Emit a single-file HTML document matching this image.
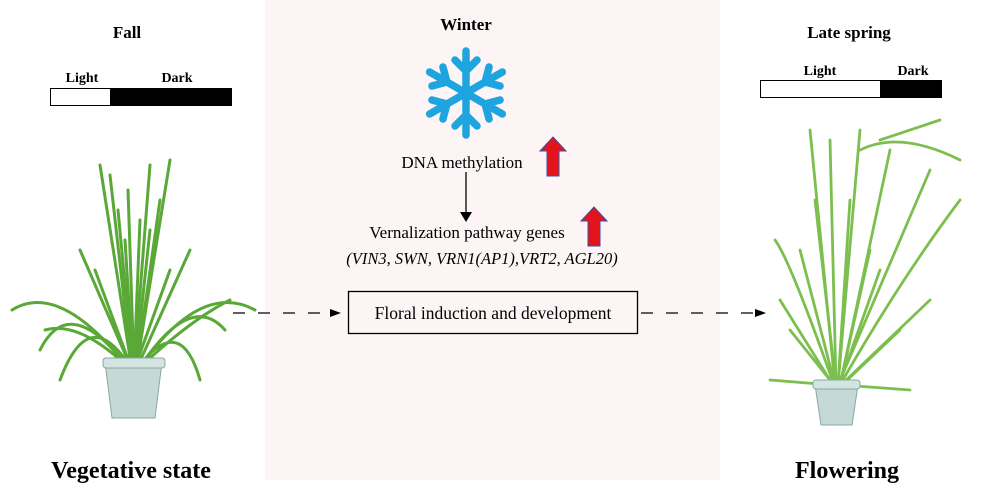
<!DOCTYPE html>
<html><head><meta charset="utf-8"><style>
body{margin:0;width:1005px;height:501px;background:#fff;overflow:hidden;position:relative;font-family:"Liberation Serif",serif}
</style></head><body>
<svg width="1005" height="501" viewBox="0 0 1005 501" xmlns="http://www.w3.org/2000/svg" style="position:absolute;left:0;top:0">
<rect x="265" y="0" width="455" height="480" fill="#fdf5f5"/>
<g font-family="Liberation Serif, serif" fill="#000">
<text x="127" y="38" font-size="17" font-weight="bold" text-anchor="middle">Fall</text>
<text x="466" y="30" font-size="17" font-weight="bold" text-anchor="middle">Winter</text>
<text x="849" y="38" font-size="17" font-weight="bold" text-anchor="middle">Late spring</text>
<text x="82" y="82" font-size="14" font-weight="bold" text-anchor="middle">Light</text>
<text x="177" y="82" font-size="14" font-weight="bold" text-anchor="middle">Dark</text>
<text x="820" y="75" font-size="14" font-weight="bold" text-anchor="middle">Light</text>
<text x="913" y="75" font-size="14" font-weight="bold" text-anchor="middle">Dark</text>
<text x="131" y="478" font-size="24" font-weight="bold" text-anchor="middle">Vegetative state</text>
<text x="847" y="478" font-size="24" font-weight="bold" text-anchor="middle">Flowering</text>
<text x="462" y="168" font-size="17" text-anchor="middle">DNA methylation</text>
<text x="467" y="238" font-size="17" text-anchor="middle">Vernalization pathway genes</text>
<text x="482" y="264" font-size="16.5" font-style="italic" text-anchor="middle">(VIN3, SWN, VRN1(AP1),VRT2, AGL20)</text>
<text x="493" y="319" font-size="17.5" text-anchor="middle">Floral induction and development</text>
</g>
<rect x="50.5" y="88.5" width="60" height="17" fill="#fff" stroke="#000"/>
<rect x="110" y="88" width="122" height="18" fill="#000"/>
<rect x="760.5" y="80.5" width="120" height="17" fill="#fff" stroke="#000"/>
<rect x="880" y="80" width="62" height="18" fill="#000"/>
<rect x="348.5" y="291.5" width="289" height="42" fill="none" stroke="#000" stroke-width="1.3"/>
<line x1="233" y1="313" x2="332" y2="313" stroke="#000" stroke-width="1.2" stroke-dasharray="12,13"/>
<polygon points="330,309 341,313 330,317" fill="#000"/>
<line x1="641" y1="313" x2="756" y2="313" stroke="#000" stroke-width="1.2" stroke-dasharray="12,13"/>
<polygon points="755,309 766,313 755,317" fill="#000"/>
<line x1="466" y1="172" x2="466" y2="213" stroke="#000" stroke-width="1.3"/>
<polygon points="460,212 472,212 466,222" fill="#000"/>
<g stroke="#1ea5df" stroke-width="7.5" stroke-linecap="round" fill="none" transform="translate(466,93)">
<g id="arm"><line x1="0" y1="0" x2="0" y2="-42"/><line x1="0" y1="-22" x2="-11" y2="-33"/><line x1="0" y1="-22" x2="11" y2="-33"/></g>
<use href="#arm" transform="rotate(60)"/><use href="#arm" transform="rotate(120)"/><use href="#arm" transform="rotate(180)"/><use href="#arm" transform="rotate(240)"/><use href="#arm" transform="rotate(300)"/>
</g>
<polygon points="553,137 566,151 559,151 559,176 547,176 547,151 540,151" fill="#e3141b" stroke="#3a4fa0" stroke-width="1"/>
<polygon points="594,207 607,221 600,221 600,246 588,246 588,221 581,221" fill="#e3141b" stroke="#3a4fa0" stroke-width="1"/>
<!-- left plant -->
<g stroke="#5aa838" stroke-width="3" fill="none" stroke-linecap="round">
<path d="M132 370 L100 165"/><path d="M132 370 L110 175"/><path d="M134 370 L128 190"/><path d="M134 370 L150 165"/><path d="M136 370 L170 160"/><path d="M136 370 L160 200"/>
<path d="M130 370 Q60 280 12 310"/><path d="M130 370 Q70 290 40 350"/><path d="M132 370 Q90 300 60 380"/>
<path d="M138 370 Q200 280 255 310"/><path d="M138 370 Q190 290 225 330"/><path d="M136 370 Q180 310 200 380"/>
<path d="M132 370 L80 250"/><path d="M136 370 L190 250"/><path d="M134 370 L140 220"/><path d="M133 370 L118 210"/>
<path d="M132 370 L95 270"/><path d="M134 370 L170 270"/><path d="M133 370 L125 240"/><path d="M135 370 L150 230"/>
<path d="M131 370 Q80 320 45 330"/><path d="M137 370 Q190 320 230 300"/>
</g>
<path d="M105 362 L162 362 L155 418 L112 418 Z" fill="#c5d9d6" stroke="#8aa8a4"/>
<rect x="103" y="358" width="62" height="10" rx="3" fill="#d4e4e0" stroke="#8aa8a4"/>
<!-- right plant -->
<g stroke="#7cbf4f" stroke-width="2.8" fill="none" stroke-linecap="round">
<path d="M835 385 L810 130"/><path d="M836 385 L830 140"/><path d="M838 385 L860 130"/><path d="M840 385 L890 150"/><path d="M838 385 L930 170"/>
<path d="M834 385 Q790 260 775 240"/><path d="M834 385 L790 330"/><path d="M840 385 Q900 280 960 200"/><path d="M842 385 L900 330"/>
<path d="M836 385 L815 200"/><path d="M838 385 L850 200"/><path d="M840 385 L870 250"/><path d="M832 385 L770 380"/><path d="M842 385 L910 390"/>
<path d="M860 150 Q900 130 960 160"/><path d="M880 140 L940 120"/>
<path d="M835 385 L800 250"/><path d="M839 385 L880 270"/><path d="M833 385 L780 300"/><path d="M841 385 L930 300"/>
</g>
<path d="M815 385 L858 385 L852 425 L821 425 Z" fill="#c5d9d6" stroke="#8aa8a4"/>
<rect x="813" y="380" width="47" height="9" rx="3" fill="#d4e4e0" stroke="#8aa8a4"/>
</svg>
</body></html>
